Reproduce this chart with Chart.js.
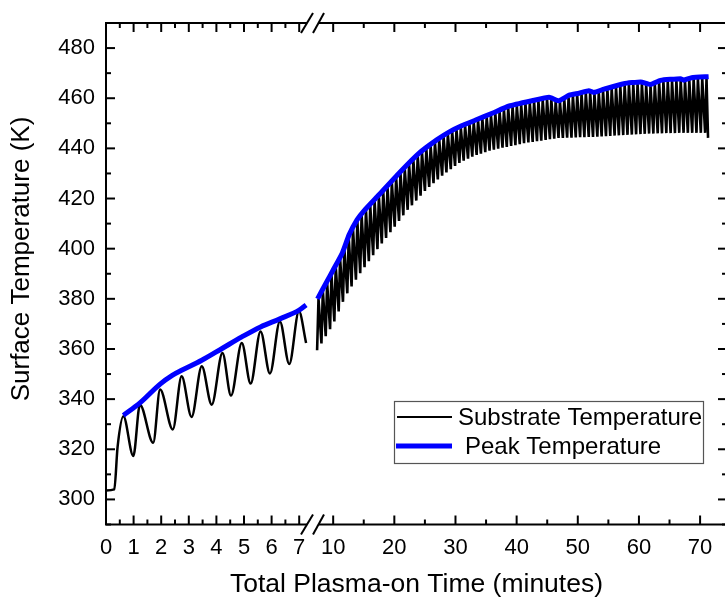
<!DOCTYPE html>
<html>
<head>
<meta charset="utf-8">
<script src="https://cdn.jsdelivr.net/npm/chart.js@4.4.1/dist/chart.umd.min.js"></script>
<style>
  html, body { margin: 0; padding: 0; background: #fff; overflow: hidden; }
  #wrap { width: 740px; height: 598px; }
</style>
</head>
<body>
<div id="wrap"><canvas id="tempChart"></canvas></div>
<script>
// ---- left segment of the broken axis (0 - 7.5 min) ----
const subTimeL = [0, 0.30, 0.42, 0.63, 0.99, 1.23, 1.71, 1.96, 2.42, 2.74, 3.10, 3.47, 3.83,
                  4.22, 4.53, 4.92, 5.24, 5.60, 5.94, 6.30, 6.64, 6.99, 7.25];
const subTempL = [303.6, 304.0, 321.0, 333.2, 317.3, 337.8, 322.6, 343.8, 327.9, 349.1, 332.9, 353.1, 337.8,
                  358.4, 341.4, 362.4, 346.2, 367.0, 350.2, 371.0, 354.0, 375.0, 362.4];
const peakTimeL = [0.63, 1.23, 1.96, 2.40, 2.74, 3.47, 4.22, 4.92, 5.60, 6.30, 7.00, 7.25];
const peakTempL = [333.5, 338.5, 346.0, 349.5, 351.5, 355.5, 360.3, 364.8, 368.8, 372.0, 375.5, 377.5];

// ---- right segment (7.5 - 74 min): one peak and one trough per cycle ----
const cyclePeakTime = [7.60, 8.31, 9.01, 9.72, 10.42, 11.13, 11.83, 12.54, 13.24, 13.95, 14.65, 15.36, 16.06,
  16.77, 17.47, 18.18, 18.88, 19.59, 20.29, 21.00, 21.70, 22.41, 23.11, 23.82, 24.52, 25.23, 25.93, 26.64,
  27.34, 28.05, 28.75, 29.46, 30.16, 30.87, 31.57, 32.28, 32.98, 33.69, 34.39, 35.10, 35.80, 36.51, 37.21,
  37.92, 38.62, 39.33, 40.03, 40.74, 41.44, 42.15, 42.85, 43.56, 44.26, 44.97, 45.67, 46.38, 47.08, 47.79,
  48.49, 49.20, 49.90, 50.61, 51.31, 52.02, 52.72, 53.43, 54.13, 54.84, 55.54, 56.25, 56.95, 57.66, 58.36,
  59.07, 59.77, 60.48, 61.18, 61.89, 62.59, 63.30, 64.00, 64.71, 65.41, 66.12, 66.82, 67.53, 68.23, 68.94,
  69.64, 70.35, 71.05];
const cyclePeakTemp = [380.0, 383.3, 386.5, 389.7, 392.9, 396.1, 400.0, 404.6, 408.0, 411.2, 413.4, 415.4, 417.3,
  419.1, 420.9, 422.8, 424.6, 426.5, 428.4, 430.2, 431.9, 433.6, 435.3, 437.0, 438.5, 439.8, 441.0, 442.3,
  443.5, 444.6, 445.7, 446.7, 447.5, 448.3, 449.1, 449.8, 450.5, 451.2, 451.9, 452.6, 453.3, 454.0, 454.8,
  455.5, 456.2, 456.7, 457.1, 457.5, 457.9, 458.3, 458.7, 459.0, 459.4, 459.7, 459.6, 459.0, 458.7, 459.6,
  460.4, 461.0, 461.3, 461.8, 462.2, 462.3, 461.9, 462.4, 463.0, 463.5, 464.0, 464.4, 464.9, 465.3, 465.5,
  465.6, 465.8, 465.9, 465.4, 465.0, 465.7, 466.4, 466.7, 466.8, 467.0, 467.1, 467.3, 466.9, 467.4, 467.7,
  467.8, 467.9, 468.0];
const cycleTroughTime = [7.37, 8.08, 8.78, 9.49, 10.19, 10.90, 11.60, 12.31, 13.01, 13.72, 14.42, 15.13, 15.83,
  16.54, 17.24, 17.95, 18.65, 19.36, 20.06, 20.77, 21.47, 22.18, 22.88, 23.59, 24.29, 25.00, 25.70, 26.41,
  27.11, 27.82, 28.52, 29.23, 29.93, 30.64, 31.34, 32.05, 32.75, 33.46, 34.16, 34.87, 35.57, 36.28, 36.98,
  37.69, 38.39, 39.10, 39.80, 40.51, 41.21, 41.92, 42.62, 43.33, 44.03, 44.74, 45.44, 46.15, 46.85, 47.56,
  48.26, 48.97, 49.67, 50.38, 51.08, 51.79, 52.49, 53.20, 53.90, 54.61, 55.31, 56.02, 56.72, 57.43, 58.13,
  58.84, 59.54, 60.25, 60.95, 61.66, 62.36, 63.07, 63.77, 64.48, 65.18, 65.89, 66.59, 67.30, 68.00, 68.71,
  69.41, 70.12, 70.82, 71.30];
const cycleTroughTemp = [359.5, 362.2, 365.1, 367.9, 371.0, 375.0, 378.8, 382.2, 384.9, 387.6, 390.2, 392.6, 395.0,
  397.4, 399.8, 402.1, 404.3, 406.6, 408.8, 411.1, 413.3, 415.5, 417.3, 419.2, 421.1, 423.0, 424.6, 426.1,
  427.6, 429.1, 430.4, 431.7, 433.0, 434.2, 435.1, 435.9, 436.7, 437.4, 437.9, 438.5, 439.1, 439.5, 439.9,
  440.3, 440.6, 441.0, 441.3, 441.7, 442.1, 442.4, 442.6, 442.9, 443.1, 443.4, 443.7, 443.9, 444.2, 444.2,
  444.3, 444.3, 444.4, 444.5, 444.5, 444.6, 444.6, 444.7, 444.8, 444.9, 445.0, 445.1, 445.2, 445.3, 445.4,
  445.5, 445.6, 445.7, 445.8, 445.9, 445.9, 446.0, 446.0, 446.1, 446.1, 446.1, 446.2, 446.2, 446.2, 446.2,
  446.2, 446.2, 446.2, 444.2];
const peakTimeR = [7.44, 9, 10, 11.5, 12.6, 13.9, 15, 17.5, 20.8, 24.1, 27, 29, 31, 33.3, 36, 38.8, 42.5,
  45.3, 46.9, 48.6, 50.2, 51.8, 52.6, 54.3, 57.5, 60.3, 61.9, 63.5, 66.8, 67.3, 68.6, 71.4];
const peakTempR = [380, 387, 391.5, 398.3, 405.5, 411.5, 415, 421.5, 430.2, 438.2, 443.5, 446.6, 449, 451.3,
  454, 456.9, 459, 460.4, 459, 461.2, 462, 463, 462.3, 463.6, 465.8, 466.5, 465.5, 467.1, 467.8, 467.2,
  468.2, 468.6];

// ---- ticks ----
const yTicks = [300, 320, 340, 360, 380, 400, 420, 440, 460, 480];
const yMinor = [290, 310, 330, 350, 370, 390, 410, 430, 450, 470, 490];
const xLeftTicks = [0, 1, 2, 3, 4, 5, 6, 7];
const xLeftMinor = [0.5, 1.5, 2.5, 3.5, 4.5, 5.5, 6.5];
const xRightTicks = [10, 20, 30, 40, 50, 60, 70];
const xRightMinor = [15, 25, 35, 45, 55, 65];

const pts = (xs, ys) => xs.map((x, i) => ({x: x, y: ys[i]}));
const subRight = [];
cycleTroughTime.forEach((t, i) => {
  subRight.push({x: t, y: cycleTroughTemp[i]});
  if (i < cyclePeakTime.length) subRight.push({x: cyclePeakTime[i], y: cyclePeakTemp[i]});
});

const FONT = "'Liberation Sans', Arial, sans-serif";
Chart.defaults.font.family = FONT;
Chart.defaults.color = '#000';

const frame = {
  id: 'frame',
  afterDatasetsDraw(chart) {
    const {ctx, chartArea: a, scales} = chart;
    const seg = (x1, y1, x2, y2) => { ctx.beginPath(); ctx.moveTo(x1, y1); ctx.lineTo(x2, y2); ctx.stroke(); };
    ctx.save();
    ctx.strokeStyle = '#000';
    ctx.lineWidth = 2;
    ctx.strokeRect(a.left, a.top, a.right - a.left, a.bottom - a.top);
    yTicks.forEach(v => { const p = scales.y.getPixelForValue(v); seg(a.left, p, a.left + 9, p); seg(a.right - 9, p, a.right, p); });
    yMinor.forEach(v => { const p = scales.y.getPixelForValue(v); seg(a.left, p, a.left + 5, p); seg(a.right - 5, p, a.right, p); });
    [[scales.x, xLeftTicks, xLeftMinor], [scales.x2, xRightTicks, xRightMinor]].forEach(([s, maj, min]) => {
      maj.forEach(v => { const p = s.getPixelForValue(v); seg(p, a.bottom, p, a.bottom - 9); seg(p, a.top, p, a.top + 9); });
      min.forEach(v => { const p = s.getPixelForValue(v); seg(p, a.bottom, p, a.bottom - 5); seg(p, a.top, p, a.top + 5); });
    });
    // axis break marks
    const b = scales.x.right;
    [a.top, a.bottom].forEach(y0 => {
      ctx.fillStyle = '#fff';
      ctx.beginPath();
      ctx.moveTo(b - 12, y0 + 10); ctx.lineTo(b, y0 - 10); ctx.lineTo(b + 11, y0 - 10); ctx.lineTo(b, y0 + 10);
      ctx.closePath(); ctx.fill();
      seg(b - 12, y0 + 10, b, y0 - 10);
      seg(b, y0 + 10, b + 11, y0 - 10);
    });
    // y axis title (sits a little above the middle of the axis)
    ctx.save();
    ctx.translate(22, a.top + 236);
    ctx.rotate(-Math.PI / 2);
    ctx.fillStyle = '#000';
    ctx.font = '26px ' + FONT;
    ctx.textAlign = 'center';
    ctx.textBaseline = 'middle';
    ctx.fillText('Surface Temperature (K)', 0, 0);
    ctx.restore();
    // legend
    const lx = a.left + 288, ly = a.top + 378;
    ctx.lineWidth = 1.2;
    ctx.strokeStyle = '#555';
    ctx.strokeRect(lx + 0.5, ly + 0.5, 309, 62);
    ctx.strokeStyle = '#000';
    ctx.lineWidth = 2;
    seg(lx + 3, ly + 16, lx + 58, ly + 16);
    ctx.strokeStyle = '#0000ff';
    ctx.lineWidth = 5;
    seg(lx + 2, ly + 45, lx + 58, ly + 45);
    ctx.fillStyle = '#000';
    ctx.font = '24px ' + FONT;
    ctx.textBaseline = 'alphabetic';
    ctx.fillText('Substrate Temperature', lx + 64, ly + 24);
    ctx.fillText('Peak Temperature', lx + 71, ly + 53);
    ctx.restore();
  }
};

const xCommon = {
  type: 'linear',
  position: 'bottom',
  stack: 'time',
  grid: { display: false },
  border: { display: false },
  ticks: { font: { size: 22 }, padding: 2, includeBounds: false, maxRotation: 0 },
  afterFit: s => { s.height = 33; }
};

new Chart(document.getElementById('tempChart'), {
  type: 'line',
  data: {
    datasets: [
      { label: 'Peak Temperature', data: pts(peakTimeL, peakTempL), xAxisID: 'x', borderColor: '#0000ff',
        borderWidth: 5, pointRadius: 0, cubicInterpolationMode: 'monotone', order: 0 },
      { label: 'Peak Temperature ', data: pts(peakTimeR, peakTempR), xAxisID: 'x2', borderColor: '#0000ff',
        borderWidth: 5, pointRadius: 0, tension: 0.15, order: 0 },
      { label: 'Substrate Temperature', data: pts(subTimeL, subTempL), xAxisID: 'x', borderColor: '#000',
        borderWidth: 2.5, pointRadius: 0, cubicInterpolationMode: 'monotone', order: 1 },
      { label: 'Substrate Temperature ', data: subRight, xAxisID: 'x2', borderColor: '#000',
        borderWidth: 2.6, pointRadius: 0, tension: 0, order: 1 }
    ]
  },
  options: {
    responsive: true,
    maintainAspectRatio: false,
    animation: false,
    layout: { padding: { top: 23, right: 13, left: 0, bottom: 0 } },
    plugins: {
      legend: { display: false },
      tooltip: { enabled: false },
      title: {
        display: true, position: 'bottom', fullSize: false,
        text: 'Total Plasma-on Time (minutes)',
        font: { size: 26.5, weight: 'normal', lineHeight: 1 },
        padding: { top: 14, bottom: 0 }
      }
    },
    scales: {
      x: Object.assign({}, xCommon, {
        min: 0, max: 7.5, stackWeight: 207,
        afterBuildTicks: s => { s.ticks = xLeftTicks.map(v => ({value: v})); }
      }),
      x2: Object.assign({}, xCommon, {
        min: 6.7, max: 74.4, stackWeight: 414,
        afterBuildTicks: s => { s.ticks = xRightTicks.map(v => ({value: v})); }
      }),
      y: {
        type: 'linear', min: 290, max: 490,
        grid: { display: false },
        border: { display: false },
        ticks: { font: { size: 22 }, padding: 3 },
        afterBuildTicks: s => { s.ticks = yTicks.map(v => ({value: v})); },
        afterFit: s => { s.width = 106; }
      }
    }
  },
  plugins: [frame]
});
</script>
</body>
</html>
